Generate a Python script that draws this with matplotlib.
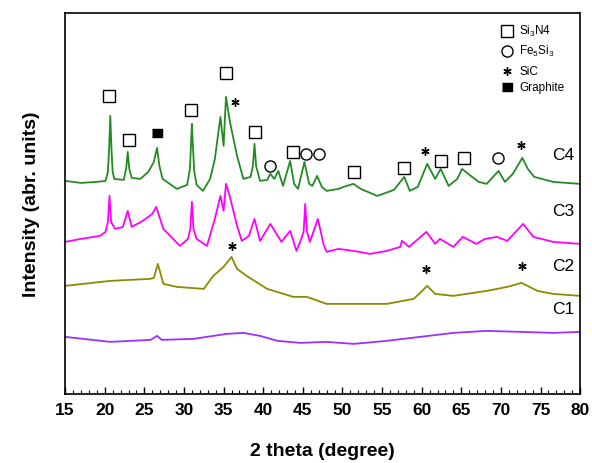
import numpy as np
import matplotlib
matplotlib.use("Agg")
import matplotlib.pyplot as plt
from matplotlib.ticker import MultipleLocator

plt.rcParams['font.family'] = ['Liberation Sans', 'DejaVu Sans']
plt.rcParams['mathtext.default'] = 'regular'

# XRD patterns (2 theta, intensity in arbitrary units)
c4_x = [15.0, 17.0, 19.0, 20.1, 20.4, 20.55, 20.7, 20.85, 21.0, 21.2, 22.4, 22.7, 22.9, 23.1,
        23.4, 24.5, 25.5, 26.2, 26.6, 26.9, 27.3, 29.1, 30.4, 30.75, 30.9, 31.0, 31.1, 31.3,
        31.6, 32.4, 33.3, 33.9, 34.6, 35.0, 35.3, 35.8, 36.7, 37.5, 38.4, 38.7, 38.9, 39.1,
        39.6, 40.5, 40.9, 41.4, 41.9, 42.5, 43.4, 43.9, 44.4, 45.2, 45.8, 46.2, 46.8, 47.4,
        48.0, 49.5, 50.5, 51.4, 52.3, 54.4, 56.5, 57.8, 58.5, 59.5, 60.7, 61.7, 62.4, 63.4,
        64.5, 65.1, 66.2, 67.2, 68.2, 69.7, 70.5, 71.5, 72.7, 73.4, 74.2, 76.6, 80.0]
c4_y = [213, 211, 212, 213, 222, 245, 278, 245, 222, 215, 214, 225, 242, 225,
        216, 215, 222, 232, 246, 228, 215, 205, 209, 225, 252, 270, 252, 222,
        209, 203, 215, 235, 277, 248, 297, 272, 238, 215, 217, 228, 250, 228,
        213, 214, 220, 215, 223, 208, 233, 210, 205, 232, 210, 208, 218, 207,
        203, 205, 208, 210, 205, 198, 204, 217, 203, 207, 230, 215, 225, 208,
        215, 225, 218, 212, 210, 223, 212, 220, 236, 225, 217, 212, 210]

c3_x = [15.0, 17.0, 19.4, 20.1, 20.4, 20.6, 20.8, 21.3, 22.3, 22.9, 23.4, 24.8, 26.0, 26.5,
        27.4, 29.5, 30.5, 30.8, 31.0, 31.2, 31.6, 32.9, 33.9, 34.6, 35.0, 35.3, 35.8, 36.7,
        37.3, 38.2, 38.9, 39.6, 40.9, 42.3, 43.4, 44.2, 44.8, 45.1, 45.3, 45.5, 45.9, 46.9,
        47.6, 48.0, 49.5, 51.4, 53.5, 55.6, 57.3, 57.5, 58.4, 60.6, 61.7, 62.3, 64.0, 65.2,
        66.9, 68.0, 69.5, 70.8, 72.8, 74.1, 76.6, 80.0]
c3_y = [152, 155, 158, 162, 172, 198, 172, 165, 167, 183, 167, 173, 180, 187,
        165, 148, 155, 165, 192, 165, 155, 148, 175, 198, 183, 210, 197, 168,
        153, 158, 175, 153, 170, 152, 163, 143, 155, 162, 190, 163, 152, 175,
        150, 142, 145, 143, 140, 143, 147, 153, 147, 162, 150, 155, 147, 157,
        150, 155, 157, 153, 170, 157, 152, 150]

c2_x = [15.0, 20.7, 25.7, 26.2, 26.7, 27.4, 29.1, 32.5, 33.7, 35.0, 36.0, 36.7, 37.9, 40.5,
        43.8, 45.5, 48.0, 51.4, 55.6, 59.0, 60.7, 61.7, 64.0, 68.2, 70.8, 72.6, 74.6, 76.6, 80.0]
c2_y = [108, 113, 115, 116, 130, 110, 107, 105, 118, 127, 137, 125, 118, 105,
        97, 97, 90, 90, 90, 95, 108, 100, 98, 103, 107, 111, 103, 100, 98]

c1_x = [15.0, 20.7, 25.8, 26.6, 27.2, 31.2, 35.4, 37.5, 39.6, 41.8, 44.7, 48.0, 51.4, 55.6,
        59.8, 64.0, 68.2, 72.5, 76.6, 80.0]
c1_y = [57, 52, 54, 58, 54, 55, 60, 61, 58, 53, 51, 52, 50, 53, 57, 61, 63, 62, 61, 62]

# phase markers (2 theta, height)
si3n4_x = [20.6, 23.0, 30.9, 35.3, 39.0, 43.7, 51.5, 57.8, 62.5, 65.4]
si3n4_y = [298, 254, 284, 321, 262, 242, 222, 226, 233, 236]
fe5si3_x = [40.9, 45.4, 47.1, 69.6]
fe5si3_y = [228, 240, 240, 236]
sic_x = [36.5, 60.4, 72.5, 36.0, 60.6, 72.7]
sic_y = [292, 243, 249, 148, 125, 128]
graphite_x = [26.6]
graphite_y = [261]

sample_labels = ['C4', 'C3', 'C2', 'C1']
label_y = [239, 183, 128, 85]
key_labels = ['Si$_3$N4', 'Fe$_5$Si$_3$', 'SiC', 'Graphite']
key_y = [363, 343, 323, 307]

rect = [(-1.4, -1), (1.4, -1), (1.4, 1), (-1.4, 1)]  # flat filled box for graphite
star = (6, 2, 0)

fig = plt.figure(figsize=(5.92, 4.64), dpi=100)
ax = fig.add_axes([0.110, 0.149, 0.870, 0.821])

ax.plot(c1_x, c1_y, color='#9b30ff', lw=1.3)
ax.plot(c2_x, c2_y, color='#8b8b00', lw=1.3)
ax.plot(c3_x, c3_y, color='#ff00ff', lw=1.3)
ax.plot(c4_x, c4_y, color='#228b22', lw=1.3)

ax.plot(si3n4_x, si3n4_y, 's', ms=8, mfc='white', mec='black', mew=1.0, ls='none')
ax.plot(fe5si3_x, fe5si3_y, 'o', ms=8, mfc='white', mec='black', mew=1.0, ls='none')
ax.plot(sic_x, sic_y, marker=star, ms=6, color='black', mew=1.0, ls='none')
ax.plot(graphite_x, graphite_y, marker=rect, ms=7.5, color='black', ls='none')

for lab, yy in zip(sample_labels, label_y):
    ax.text(77.9, yy, lab, fontsize=12.5, ha='center', va='center')

# phase key in upper right
ax.plot(70.8, key_y[0], 's', ms=8, mfc='white', mec='black', mew=1.0)
ax.plot(70.8, key_y[1], 'o', ms=8, mfc='white', mec='black', mew=1.0)
ax.plot(70.8, key_y[2], marker=star, ms=6, color='black', mew=1.0)
ax.plot(70.8, key_y[3], marker=rect, ms=7.5, color='black')
for txt, yy in zip(key_labels, key_y):
    ax.text(72.3, yy, txt, fontsize=8.5, ha='left', va='center')

ax.set_xlim(15, 80)
ax.set_ylim(0, 381)
ax.xaxis.set_major_locator(MultipleLocator(5))
ax.xaxis.set_minor_locator(MultipleLocator(1))
ax.tick_params(axis='x', which='major', direction='in', length=5, width=1,
               labelsize=12.5, pad=6)
ax.tick_params(axis='x', which='minor', direction='in', length=3, width=0.8)
for lbl in ax.get_xticklabels():
    lbl.set_fontweight('bold')
ax.set_yticks([])
for sp in ax.spines.values():
    sp.set_linewidth(1.2)

ax.set_xlabel('2 theta (degree)', fontsize=14, fontweight='bold', labelpad=18)
ax.set_ylabel('Intensity (abr. units)', fontsize=14, fontweight='bold', labelpad=18)

fig.savefig('out.png', dpi=100)
